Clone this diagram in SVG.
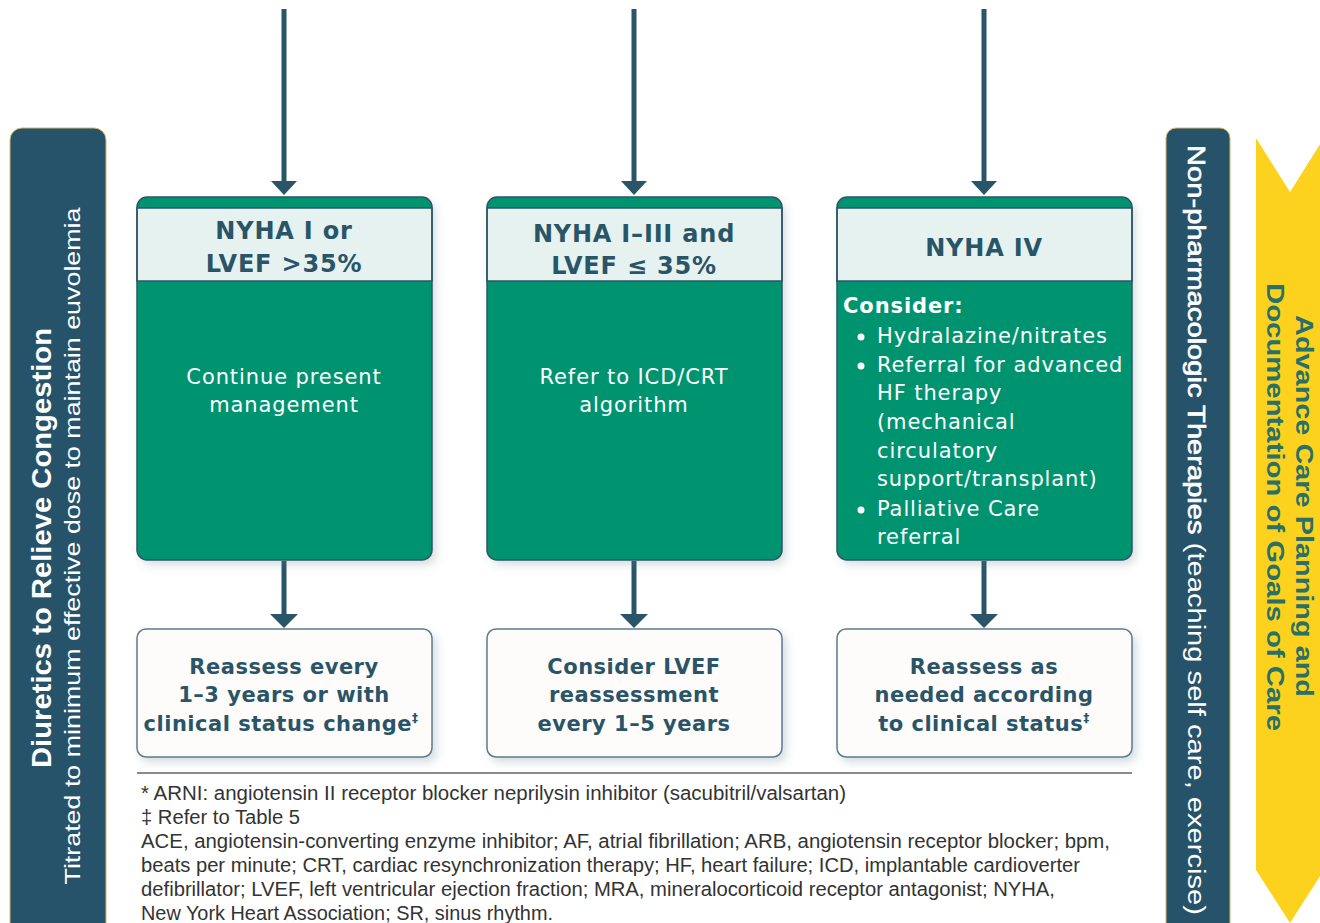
<svg xmlns="http://www.w3.org/2000/svg" width="1320" height="923" viewBox="0 0 1320 923">
<defs>
<filter id="sh" x="-10%" y="-10%" width="125%" height="125%">
<feDropShadow dx="4" dy="5" stdDeviation="4" flood-color="#5a7a88" flood-opacity="0.25"/>
</filter>
<style>
.bar{fill:#27536a;stroke:#d8b765;stroke-width:1;}
.main{fill:#02936f;}
.hdr{fill:#e5f2f0;stroke:#2f5566;stroke-width:1.5;}
.outl{fill:none;stroke:#2f5566;stroke-width:1.5;}
.low{fill:#fdfcfb;stroke:#5b7c8a;stroke-width:1.5;}
.ht{font-family:"DejaVu Sans",Verdana,sans-serif;font-weight:bold;font-size:24px;fill:#2a5467;text-anchor:middle;letter-spacing:0.8px;}
.bt{font-family:"DejaVu Sans",Verdana,sans-serif;font-size:21px;fill:#ffffff;letter-spacing:0.9px;}
.btc{text-anchor:middle;}
.lt{font-family:"DejaVu Sans",Verdana,sans-serif;font-weight:bold;font-size:21px;fill:#2a5467;text-anchor:middle;letter-spacing:0.5px;}
.fn{font-family:"Liberation Sans",Arial,sans-serif;font-size:20px;fill:#333333;}
.conn line{stroke:#2a5467;stroke-width:5;}
.conn polygon{fill:#2a5467;}
.sup{font-size:12px;}
</style>
</defs>
<rect width="1320" height="923" fill="#ffffff"/>

<g id="diuretics-bar">
<rect class="bar" x="10" y="128" width="96" height="810" rx="12"/>
<text transform="translate(51,548) rotate(-90)" text-anchor="middle" font-family="Liberation Sans,Arial,sans-serif" font-weight="bold" font-size="27" fill="#ffffff" textLength="440" lengthAdjust="spacingAndGlyphs">Diuretics to Relieve Congestion</text>
<text transform="translate(80,546) rotate(-90)" text-anchor="middle" font-family="Liberation Sans,Arial,sans-serif" font-size="22" fill="#ffffff" textLength="677" lengthAdjust="spacingAndGlyphs">Titrated to minimum effective dose to maintain euvolemia</text>
</g>

<g id="nonpharm-bar">
<rect class="bar" x="1166" y="128" width="64" height="810" rx="10"/>
<text transform="translate(1188,530) rotate(90)" text-anchor="middle" font-family="Liberation Sans,Arial,sans-serif" font-size="23" fill="#ffffff" textLength="770" lengthAdjust="spacingAndGlyphs"><tspan stroke="#ffffff" stroke-width="0.6">Non-pharmacologic Therapies</tspan> (teaching self care, exercise)</text>
</g>

<g id="advance-care-arrow">
<polygon points="1256,138 1290,192 1324,138 1324,870 1290,923 1256,870" fill="#fcd21f"/>
<text transform="translate(1296,506) rotate(90)" text-anchor="middle" font-family="Liberation Sans,Arial,sans-serif" font-weight="bold" font-size="24" fill="#287068" textLength="382" lengthAdjust="spacingAndGlyphs">Advance Care Planning and</text>
<text transform="translate(1267,507) rotate(90)" text-anchor="middle" font-family="Liberation Sans,Arial,sans-serif" font-weight="bold" font-size="24" fill="#287068" textLength="448" lengthAdjust="spacingAndGlyphs">Documentation of Goals of Care</text>
</g>

<g id="connectors" class="conn">
<line x1="284" y1="9" x2="284" y2="184"/>
<polygon points="271,181 297,181 284,195"/>
<line x1="634" y1="9" x2="634" y2="184"/>
<polygon points="621,181 647,181 634,195"/>
<line x1="984" y1="9" x2="984" y2="184"/>
<polygon points="971,181 997,181 984,195"/>
<line x1="284" y1="561" x2="284" y2="617"/>
<polygon points="270,614 298,614 284,628"/>
<line x1="634" y1="561" x2="634" y2="617"/>
<polygon points="620,614 648,614 634,628"/>
<line x1="984" y1="561" x2="984" y2="617"/>
<polygon points="970,614 998,614 984,628"/>
</g>

<g id="node-nyha1">
<rect class="main" x="137" y="197" width="295" height="363" rx="10" filter="url(#sh)"/>
<rect class="hdr" x="137" y="208" width="295" height="73"/>
<rect class="outl" x="137" y="197" width="295" height="363" rx="10"/>
<text class="ht" x="284" y="239">NYHA I or</text>
<text class="ht" x="284" y="272">LVEF &gt;35%</text>
<text class="bt btc" x="284" y="384">Continue present</text>
<text class="bt btc" x="284" y="412">management</text>
</g>

<g id="node-nyha13">
<rect class="main" x="487" y="197" width="295" height="363" rx="10" filter="url(#sh)"/>
<rect class="hdr" x="487" y="208" width="295" height="73"/>
<rect class="outl" x="487" y="197" width="295" height="363" rx="10"/>
<text class="ht" x="634" y="242">NYHA I–III and</text>
<text class="ht" x="634" y="274">LVEF ≤ 35%</text>
<text class="bt btc" x="634" y="384">Refer to ICD/CRT</text>
<text class="bt btc" x="634" y="412">algorithm</text>
</g>

<g id="node-nyha4">
<rect class="main" x="837" y="197" width="295" height="363" rx="10" filter="url(#sh)"/>
<rect class="hdr" x="837" y="208" width="295" height="73"/>
<rect class="outl" x="837" y="197" width="295" height="363" rx="10"/>
<text class="ht" x="984" y="256">NYHA IV</text>
<text class="bt" x="843" y="313" font-weight="bold" letter-spacing="0.3">Consider:</text>
<circle cx="861" cy="337" r="3.5" fill="#ffffff"/>
<circle cx="861" cy="366" r="3.5" fill="#ffffff"/>
<circle cx="861" cy="510" r="3.5" fill="#ffffff"/>
<text class="bt" x="877" y="343">Hydralazine/nitrates</text>
<text class="bt" x="877" y="372">Referral for advanced</text>
<text class="bt" x="877" y="400">HF therapy</text>
<text class="bt" x="877" y="429">(mechanical</text>
<text class="bt" x="877" y="458">circulatory</text>
<text class="bt" x="877" y="486">support/transplant)</text>
<text class="bt" x="877" y="516">Palliative Care</text>
<text class="bt" x="877" y="544">referral</text>
</g>

<g id="node-reassess1">
<rect class="low" x="137" y="629" width="295" height="128" rx="9" filter="url(#sh)"/>
<text class="lt" x="284" y="674">Reassess every</text>
<text class="lt" x="284" y="702">1–3 years or with</text>
<text class="lt" x="281" y="731">clinical status change<tspan class="sup" dy="-9">‡</tspan></text>
</g>

<g id="node-lvef">
<rect class="low" x="487" y="629" width="295" height="128" rx="9" filter="url(#sh)"/>
<text class="lt" x="634" y="674">Consider LVEF</text>
<text class="lt" x="634" y="702">reassessment</text>
<text class="lt" x="634" y="731">every 1–5 years</text>
</g>

<g id="node-reassess4">
<rect class="low" x="837" y="629" width="295" height="128" rx="9" filter="url(#sh)"/>
<text class="lt" x="984" y="674">Reassess as</text>
<text class="lt" x="984" y="702">needed according</text>
<text class="lt" x="984" y="731">to clinical status<tspan class="sup" dy="-9">‡</tspan></text>
</g>

<g id="footnotes">
<line x1="137" y1="773" x2="1132" y2="773" stroke="#8a8a8a" stroke-width="2"/>
<text class="fn" x="141" y="800" textLength="705" lengthAdjust="spacingAndGlyphs">* ARNI: angiotensin II receptor blocker neprilysin inhibitor (sacubitril/valsartan)</text>
<text class="fn" x="141" y="824" textLength="159" lengthAdjust="spacingAndGlyphs">‡ Refer to Table 5</text>
<text class="fn" x="141" y="848" textLength="969" lengthAdjust="spacingAndGlyphs">ACE, angiotensin-converting enzyme inhibitor; AF, atrial fibrillation; ARB, angiotensin receptor blocker; bpm,</text>
<text class="fn" x="141" y="872" textLength="939" lengthAdjust="spacingAndGlyphs">beats per minute; CRT, cardiac resynchronization therapy; HF, heart failure; ICD, implantable cardioverter</text>
<text class="fn" x="141" y="896" textLength="914" lengthAdjust="spacingAndGlyphs">defibrillator; LVEF, left ventricular ejection fraction; MRA, mineralocorticoid receptor antagonist; NYHA,</text>
<text class="fn" x="141" y="920" textLength="412" lengthAdjust="spacingAndGlyphs">New York Heart Association; SR, sinus rhythm.</text>
</g>
</svg>
